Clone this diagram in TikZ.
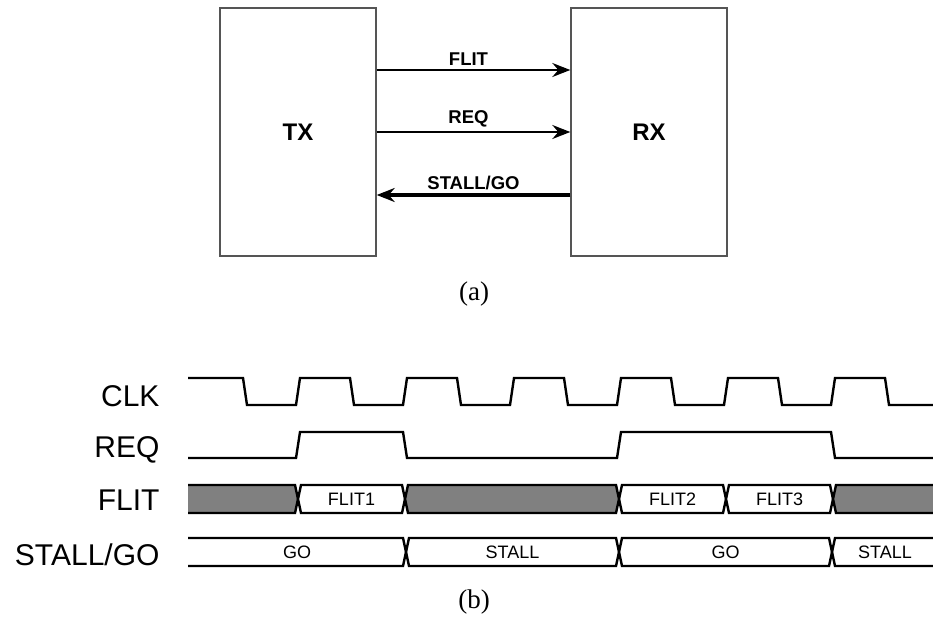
\documentclass[tikz,border=0pt]{standalone}
\usepackage{fontspec}
\setmainfont{Liberation Serif}
\setsansfont{Liberation Sans}
\usetikzlibrary{arrows.meta, positioning}
\definecolor{boxgray}{RGB}{85,85,85}
\definecolor{busgray}{RGB}{128,128,128}

\begin{document}
\begin{tikzpicture}[
  x=1pt, y=-1pt,
  block/.style={rectangle, draw=boxgray, line width=1.4pt, minimum width=156pt,
    minimum height=248pt, font=\sffamily\bfseries\fontsize{24}{27}\selectfont},
  link/.style={-{Stealth[length=18pt, width=14pt, inset=6pt]}, line width=2.2pt},
  lbl/.style={font=\sffamily\bfseries\fontsize{18.5}{20}\selectfont, above, midway},
  sig/.style={anchor=east, font=\sffamily\fontsize{30}{33}\selectfont},
  wave/.style={line width=2.4pt},
  val/.style={font=\sffamily\fontsize{18}{20}\selectfont},
  subcap/.style={font=\fontsize{27}{30}\selectfont}
]
\useasboundingbox (0,0) rectangle (933,626);

% (a) interface
\node[block] (tx) at (298,132) {TX};
\node[block] (rx) at (649,132) {RX};
\draw[link] ([yshift=62pt]tx.east) -- node[lbl, xshift=-5pt] {FLIT} ([yshift=62pt]rx.west);
\draw[link] (tx.east) -- node[lbl, xshift=-5pt] {REQ} (rx.west);
\draw[link, line width=3.2pt] ([yshift=-63pt]rx.west) -- node[lbl] {STALL/GO} ([yshift=-63pt]tx.east);
\node[subcap] (capa) at (474,294) {(a)};

% (b) timing
\node[sig] (clk) at (163,396) {CLK};
\node[sig] (req) at (163,450) {REQ};
\node[sig] (flit) at (163,500) {FLIT};
\node[sig] (stall) at (163,555) {STALL/GO};

\draw[wave] (188,378) foreach \k in {0,...,5} {
    -- ({243+107*\k},378) -- ({247+107*\k},405) -- ({296+107*\k},405) -- ({300+107*\k},378)
  } -- (885,378) -- (889,405) -- (933,405);
\draw[wave] (188,458) -- (296,458) -- (300,432) -- (403,432) -- (407,458) -- (617,458)
  -- (621,432) -- (831,432) -- (835,458) -- (933,458);

% FLIT bus
\path[wave, fill=busgray, draw] (188,485) -- (295,485) -- (298,499) -- (295,513) -- (188,513);
\foreach \a/\b/\c/\t [count=\i] in {298/405/white/FLIT1, 619/726/white/FLIT2, 726/833/white/FLIT3} {
  \filldraw[wave, fill=\c] (\a,499) -- ({\a+3},485) -- ({\b-3},485) -- (\b,499)
    -- ({\b-3},513) -- ({\a+3},513) -- cycle;
  \node[val] (flit\i) at ({(\a+\b)/2},499) {\t};
}
\filldraw[wave, fill=busgray] (405,499) -- (408,485) -- (616,485) -- (619,499)
  -- (616,513) -- (408,513) -- cycle;
\path[wave, fill=busgray, draw] (933,485) -- (836,485) -- (833,499) -- (836,513) -- (933,513);

% STALL/GO bus
\draw[wave] (188,538) -- (403,538) -- (406,552) -- (403,566) -- (188,566);
\node[val] (go1) at (297,552) {GO};
\foreach \a/\b/\t [count=\i] in {406/619/STALL, 619/832/GO} {
  \draw[wave] (\a,552) -- ({\a+3},538) -- ({\b-3},538) -- (\b,552)
    -- ({\b-3},566) -- ({\a+3},566) -- cycle;
  \node[val] (st\i) at ({(\a+\b)/2},552) {\t};
}
\draw[wave] (933,538) -- (835,538) -- (832,552) -- (835,566) -- (933,566);
\node[val] (st3) at (885,552) {STALL};
\node[subcap] (capb) at (474,602) {(b)};
\end{tikzpicture}
\end{document}
